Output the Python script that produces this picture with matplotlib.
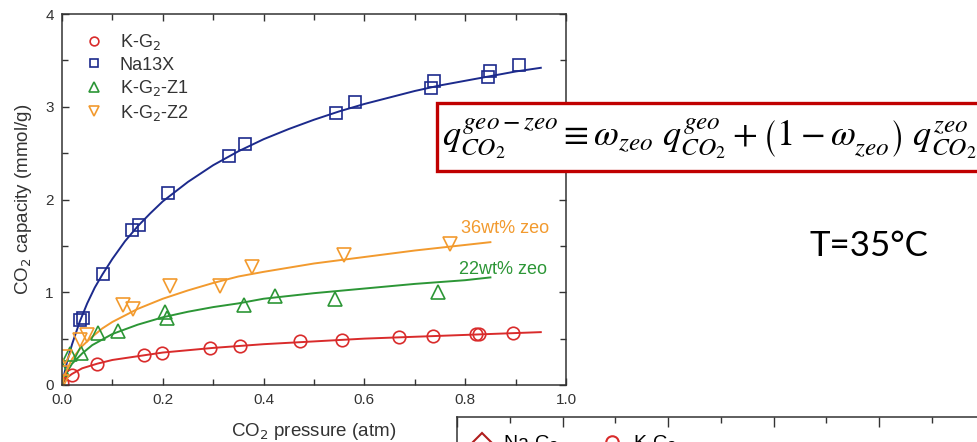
import matplotlib
matplotlib.use("Agg")
import matplotlib.pyplot as plt
from matplotlib.lines import Line2D
from matplotlib.patches import Rectangle
from matplotlib.ticker import MultipleLocator

plt.rcParams['font.family'] = ['Liberation Sans', 'DejaVu Sans']

# ---- measured points ----
kg2_x = [0.0, 0.019, 0.069, 0.162, 0.199, 0.293, 0.354, 0.473, 0.556, 0.669, 0.737, 0.822, 0.828, 0.894]
kg2_y = [0.02, 0.11, 0.23, 0.32, 0.35, 0.40, 0.42, 0.47, 0.49, 0.52, 0.53, 0.55, 0.55, 0.56]

na13x_x = [0.036, 0.042, 0.082, 0.139, 0.153, 0.211, 0.331, 0.363, 0.544, 0.581, 0.733, 0.739, 0.845, 0.850, 0.907]
na13x_y = [0.70, 0.72, 1.20, 1.67, 1.72, 2.07, 2.47, 2.60, 2.93, 3.05, 3.20, 3.28, 3.32, 3.39, 3.45]

z1_x = [0.0, 0.015, 0.037, 0.071, 0.112, 0.205, 0.209, 0.361, 0.422, 0.541, 0.747]
z1_y = [0.17, 0.33, 0.35, 0.56, 0.58, 0.79, 0.72, 0.86, 0.96, 0.93, 1.00]

z2_x = [0.0, 0.0, 0.006, 0.036, 0.049, 0.121, 0.141, 0.215, 0.313, 0.376, 0.559, 0.770]
z2_y = [0.03, 0.13, 0.30, 0.49, 0.54, 0.86, 0.82, 1.07, 1.07, 1.27, 1.40, 1.52]

# ---- fitted curves ----
kg2_fit_x = [0, 0.005, 0.01, 0.02, 0.04, 0.07, 0.1, 0.15, 0.2, 0.3, 0.4, 0.5, 0.6, 0.7, 0.8, 0.9, 0.95]
kg2_fit_y = [0, 0.05, 0.08, 0.12, 0.18, 0.23, 0.27, 0.31, 0.35, 0.40, 0.44, 0.47, 0.50, 0.52, 0.54, 0.56, 0.57]

na13x_fit_x = [0, 0.005, 0.01, 0.02, 0.035, 0.05, 0.065, 0.08, 0.1, 0.125, 0.15, 0.175, 0.2, 0.25, 0.3,
               0.35, 0.4, 0.45, 0.5, 0.55, 0.6, 0.65, 0.7, 0.75, 0.8, 0.85, 0.9, 0.95]
na13x_fit_y = [0, 0.13, 0.25, 0.44, 0.68, 0.88, 1.05, 1.19, 1.36, 1.55, 1.71, 1.85, 1.98, 2.19, 2.37,
               2.52, 2.65, 2.76, 2.86, 2.95, 3.03, 3.10, 3.17, 3.23, 3.28, 3.33, 3.38, 3.42]

z1_fit_x = [0, 0.005, 0.01, 0.02, 0.04, 0.06, 0.08, 0.1, 0.15, 0.2, 0.25, 0.3, 0.35, 0.4, 0.5, 0.6, 0.7, 0.8, 0.85]
z1_fit_y = [0, 0.08, 0.14, 0.23, 0.34, 0.43, 0.49, 0.55, 0.65, 0.73, 0.79, 0.84, 0.88, 0.93, 0.99, 1.04, 1.09, 1.13, 1.16]

z2_fit_x = [0, 0.005, 0.01, 0.02, 0.04, 0.06, 0.08, 0.1, 0.15, 0.2, 0.25, 0.3, 0.35, 0.4, 0.5, 0.6, 0.7, 0.8, 0.85]
z2_fit_y = [0, 0.10, 0.17, 0.28, 0.42, 0.52, 0.61, 0.68, 0.82, 0.93, 1.02, 1.10, 1.17, 1.22, 1.31, 1.38, 1.45, 1.51, 1.54]

x_ticks = [0.0, 0.2, 0.4, 0.6, 0.8, 1.0]
x_ticklabels = ['0.0', '0.2', '0.4', '0.6', '0.8', '1.0']
y_ticks = [0, 1, 2, 3, 4]
y_ticklabels = ['0', '1', '2', '3', '4']

RED = '#d92b2b'
BLUE = '#1c2a8c'
GREEN = '#2c9636'
ORANGE = '#f29a2e'
DARK = '#333333'

W, H = 977, 442
fig = plt.figure(figsize=(W / 100, H / 100), dpi=100)

L, R, T, B = 62, 566, 14, 385
ax = fig.add_axes([L / W, 1 - B / H, (R - L) / W, (B - T) / H])

ms = 9
mew = 1.2
ax.plot(kg2_fit_x, kg2_fit_y, color=RED, lw=1.4)
ax.plot(na13x_fit_x, na13x_fit_y, color=BLUE, lw=1.4)
ax.plot(z1_fit_x, z1_fit_y, color=GREEN, lw=1.4)
ax.plot(z2_fit_x, z2_fit_y, color=ORANGE, lw=1.4)

ax.plot(kg2_x, kg2_y, 'o', mfc='none', mec=RED, ms=ms, mew=mew, label='K-G$_2$')
ax.plot(na13x_x, na13x_y, 's', mfc='none', mec=BLUE, ms=ms - 0.5, mew=mew, label='Na13X')
ax.plot(z1_x, z1_y, '^', mfc='none', mec=GREEN, ms=ms + 0.5, mew=mew, label='K-G$_2$-Z1')
ax.plot(z2_x, z2_y, 'v', mfc='none', mec=ORANGE, ms=ms + 0.5, mew=mew, label='K-G$_2$-Z2')

ax.set_xlim(0, 1.0)
ax.set_ylim(0, 4)
ax.set_xticks(x_ticks)
ax.set_xticklabels(x_ticklabels)
ax.set_yticks(y_ticks)
ax.set_yticklabels(y_ticklabels)
ax.xaxis.set_minor_locator(MultipleLocator(0.1))
ax.yaxis.set_minor_locator(MultipleLocator(0.5))
ax.tick_params(which='both', direction='in', top=True, right=True, colors=DARK,
               labelsize=11, labelcolor=DARK, width=1.0)
ax.tick_params(which='major', length=5)
ax.tick_params(which='minor', length=4)
ax.tick_params(axis='x', pad=6)
ax.tick_params(axis='y', pad=6)
for s in ax.spines.values():
    s.set_color(DARK)
    s.set_linewidth(1.1)

ax.set_xlabel('CO$_2$ pressure (atm)', fontsize=13.5, color=DARK, labelpad=10)
ax.set_ylabel('CO$_2$ capacity (mmol/g)', fontsize=13.5, color=DARK, labelpad=8)

leg = ax.legend(loc='upper left', bbox_to_anchor=(0.025, 0.98), frameon=False, fontsize=13,
                handlelength=1.0, handletextpad=0.9, labelspacing=0.25, markerscale=0.7,
                borderaxespad=0.2)
for t in leg.get_texts():
    t.set_color(DARK)

ax.text(0.879, 1.69, '36wt% zeo', color=ORANGE, fontsize=13, ha='center', va='center')
ax.text(0.875, 1.25, '22wt% zeo', color=GREEN, fontsize=13, ha='center', va='center')

# formula box
box = Rectangle((437 / W, 1 - 171 / H), 700 / W, 68 / H, transform=fig.transFigure,
                facecolor='white', edgecolor='#c00000', lw=2.4, zorder=5)
fig.add_artist(box)
fig.text(442 / W, 1 - 139 / H,
         r'$q_{CO_2}^{geo-zeo}\equiv\omega_{zeo}\ q_{CO_2}^{geo}+\left(1-\omega_{zeo}^{\ }\right)\ q_{CO_2}^{zeo}$',
         fontsize=26, math_fontfamily='stix', ha='left', va='center', zorder=6, color='black')

fig.text(869 / W, 1 - 246 / H, 'T=35°C', fontsize=25, family=['Lato', 'DejaVu Sans'],
         ha='center', va='center', color='black')

# partially visible second chart
ax2 = fig.add_axes([457 / W, (H - 417 - 300) / H, 800 / W, 300 / H])
ax2.set_xlim(0, 800 / 527.5)
ax2.set_ylim(0, 1)
ax2.xaxis.set_major_locator(MultipleLocator(0.2))
ax2.xaxis.set_minor_locator(MultipleLocator(0.1))
ax2.tick_params(which='both', direction='in', top=True, bottom=False, left=False, right=False,
                labeltop=False, labelbottom=False, labelleft=False, colors=DARK, width=1.0)
ax2.tick_params(which='major', length=7)
ax2.tick_params(which='minor', length=4)
for s in ax2.spines.values():
    s.set_color(DARK)
    s.set_linewidth(1.1)
h1 = Line2D([], [], marker='D', ls='none', mfc='none', mec='#b01e1e', ms=9, mew=1.5)
h2 = Line2D([], [], marker='o', ls='none', mfc='none', mec=RED, ms=9, mew=1.5)
ax2.legend([h1, h2], ['Na-G$_2$', 'K-G$_2$'], loc='upper left', bbox_to_anchor=(472 / W, 1 - 434 / H),
           bbox_transform=fig.transFigure, frameon=False, ncol=2, fontsize=14,
           handlelength=1.0, handletextpad=0.6, columnspacing=2.2, borderpad=0, borderaxespad=0)

fig.savefig('out.png', dpi=100)
